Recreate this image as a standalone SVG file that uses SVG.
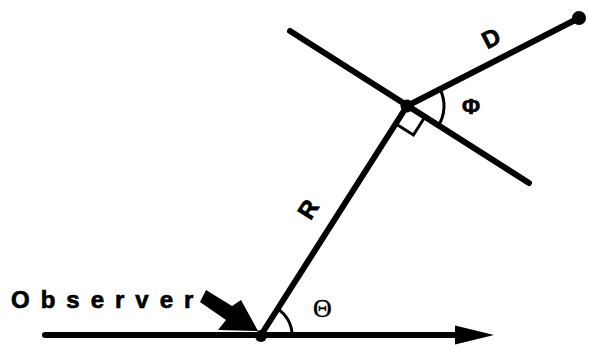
<svg xmlns="http://www.w3.org/2000/svg" width="589" height="345" viewBox="0 0 589 345">
<style>
.ln{stroke:#000;stroke-width:6;fill:none;stroke-linecap:round}
.thin{stroke:#000;stroke-width:3;fill:none}
.lbl{font-family:"Liberation Sans",Arial,sans-serif;font-weight:bold;fill:#000;stroke:#000;stroke-width:0.7}
.ser{font-family:"Liberation Serif","Times New Roman",serif;fill:#000;stroke:#000;stroke-width:0.4}
</style>
<rect width="589" height="345" fill="#fff"/>
<g id="connectors">
<line class="ln" x1="45" y1="335" x2="460" y2="335"/>
<polygon points="455,325.5 494,335 455,344.5" fill="#000"/>
<line class="ln" x1="261" y1="335" x2="407" y2="106"/>
<line class="ln" x1="290" y1="31" x2="529" y2="183"/>
<line class="ln" x1="407" y1="106" x2="579" y2="18"/>
<polyline class="thin" points="395.7,123.7 413.4,135 424.7,117.3"/>
<path class="thin" d="M292 335 A31 31 0 0 0 277.7 308.9"/>
<path class="thin" d="M439.9 89 A37 37 0 0 1 438.2 125.9"/>
<polygon points="206,290 232,306 241,300 258,331 218,330 226,320 200,302" fill="#000"/>
</g>
<g id="observer">
<circle cx="261" cy="336" r="6" fill="#000"/>
<text class="lbl" x="11" y="308" font-size="24" letter-spacing="11">Observer</text>
</g>
<g id="vertex">
<circle cx="407" cy="106" r="6.5" fill="#000"/>
</g>
<g id="target">
<circle cx="579" cy="18" r="7" fill="#000"/>
</g>
<g id="label-R">
<text class="lbl" font-size="24" text-anchor="middle" transform="translate(308,209) rotate(-57.5)" x="0" y="8.5">R</text>
</g>
<g id="label-D">
<text class="lbl" font-size="24" text-anchor="middle" transform="translate(491,38) rotate(-27.4)" x="0" y="8.5">D</text>
</g>
<g id="label-phi">
<text class="lbl" font-size="22" text-anchor="middle" x="471" y="114">Φ</text>
</g>
<g id="label-theta">
<text class="ser" font-size="26" text-anchor="middle" x="322.5" y="317">Θ</text>
</g>
</svg>
